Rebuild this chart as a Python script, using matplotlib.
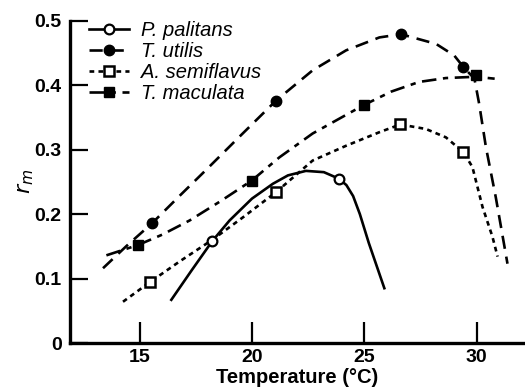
import matplotlib
matplotlib.use("Agg")
import matplotlib.pyplot as plt
from matplotlib.lines import Line2D

plt.rcParams["font.family"] = ["Liberation Sans", "DejaVu Sans"]

# curves
pal_x = [16.41, 17.3, 18.23, 19.0, 20.0, 20.93, 21.6, 22.4, 23.2, 23.86, 24.2, 24.5, 24.8, 25.2, 25.89]
pal_y = [0.067, 0.112, 0.158, 0.19, 0.224, 0.247, 0.260, 0.267, 0.265, 0.255, 0.245, 0.228, 0.200, 0.155, 0.085]
pal_mx = [18.23, 23.86]
pal_my = [0.158, 0.255]

uti_x = [13.37, 14.4, 15.56, 16.8, 18.0, 19.5, 21.07, 22.7, 24.19, 25.67, 26.63, 28.19, 29.0, 29.41,
         29.9, 30.11, 30.41, 30.85, 31.37]
uti_y = [0.116, 0.150, 0.186, 0.229, 0.270, 0.322, 0.376, 0.423, 0.454, 0.474, 0.479, 0.464, 0.446, 0.428,
         0.41, 0.371, 0.304, 0.226, 0.123]
uti_mx = [15.56, 21.07, 26.63, 29.41]
uti_my = [0.186, 0.376, 0.479, 0.428]

sem_x = [14.26, 15.44, 16.8, 18.23, 19.6, 21.07, 22.7, 24.19, 25.67, 26.6, 27.74, 28.63, 29.41, 29.81,
         30.26, 30.7, 30.93]
sem_y = [0.064, 0.094, 0.127, 0.160, 0.195, 0.234, 0.283, 0.306, 0.327, 0.339, 0.332, 0.319, 0.296, 0.273,
         0.211, 0.165, 0.134]
sem_mx = [15.44, 21.07, 26.6, 29.41]
sem_my = [0.094, 0.234, 0.339, 0.296]

mac_x = [13.52, 14.93, 16.0, 17.22, 18.6, 19.99, 21.22, 22.7, 24.97, 26.2, 27.44, 28.63, 29.96, 30.8]
mac_y = [0.136, 0.152, 0.168, 0.19, 0.22, 0.252, 0.288, 0.325, 0.369, 0.39, 0.405, 0.411, 0.413, 0.41]
mac_mx = [14.93, 19.99, 24.97, 29.96]
mac_my = [0.152, 0.252, 0.369, 0.415]

x_ticks = [15, 20, 25, 30]
y_ticks = [0, 0.1, 0.2, 0.3, 0.4, 0.5]
y_labels = ["0", "0.1", "0.2", "0.3", "0.4", "0.5"]

lw = 1.9
dash_uti = (0, (5, 3))
dash_sem = (0, (1.8, 1.6))
dash_mac = (0, (5.5, 2.5, 2, 2.5))

fig = plt.figure(figsize=(5.25, 3.9), dpi=100)
ax = fig.add_axes([0.1333, 0.1205, 0.8667, 0.8265])

ax.plot(pal_x, pal_y, color="black", lw=lw, ls="-")
ax.plot(uti_x, uti_y, color="black", lw=lw, ls=dash_uti)
ax.plot(sem_x, sem_y, color="black", lw=lw, ls=dash_sem)
ax.plot(mac_x, mac_y, color="black", lw=lw, ls=dash_mac)

ax.plot(pal_mx, pal_my, "o", ms=7, mfc="white", mec="black", mew=1.6)
ax.plot(uti_mx, uti_my, "o", ms=7.5, color="black")
ax.plot(sem_mx, sem_my, "s", ms=6.5, mfc="white", mec="black", mew=1.8)
ax.plot(mac_mx, mac_my, "s", ms=7, color="black")

handles = [
    Line2D([], [], color="black", lw=lw, ls="-", marker="o", ms=7, mfc="white", mew=1.6),
    Line2D([], [], color="black", lw=lw, ls=dash_uti, marker="o", ms=7.5),
    Line2D([], [], color="black", lw=lw, ls=dash_sem, marker="s", ms=6.5, mfc="white", mew=1.8),
    Line2D([], [], color="black", lw=lw, ls=dash_mac, marker="s", ms=7),
]
labels = ["P. palitans", "T. utilis", "A. semiflavus", "T. maculata"]
ax.legend(handles, labels, loc="upper left", bbox_to_anchor=(0.042, 0.998), frameon=False,
          prop={"style": "italic", "size": 14.5}, handlelength=2.0, handletextpad=0.6,
          labelspacing=0.1, borderpad=0, borderaxespad=0, numpoints=1)

ax.set_xlim(11.9, 32.15)
ax.set_ylim(0, 0.5)
ax.set_xticks(x_ticks)
ax.set_xticklabels([str(t) for t in x_ticks], fontsize=14, fontweight="bold")
ax.set_yticks(y_ticks)
ax.set_yticklabels(y_labels, fontsize=14, fontweight="bold")
ax.tick_params(direction="in", width=1.6, length=13, pad=6)
ax.tick_params(axis="x", length=15, pad=4)

for s in ["top", "right"]:
    ax.spines[s].set_visible(False)
for s in ["left", "bottom"]:
    ax.spines[s].set_linewidth(2.4)

ax.set_xlabel("Temperature (°C)", fontsize=14.5, fontweight="bold", labelpad=2)
ax.set_ylabel("$r_m$", fontsize=16, labelpad=-1)

fig.savefig("out.png", dpi=100)
